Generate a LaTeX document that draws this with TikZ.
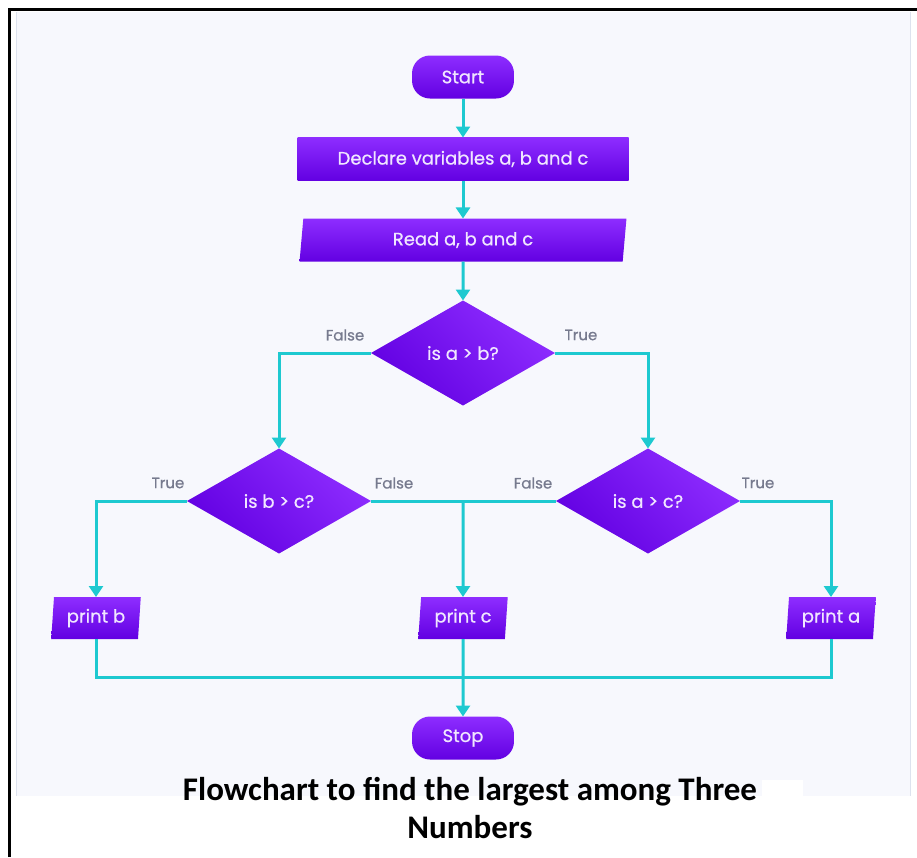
\documentclass[tikz,border=0pt]{standalone}
\usepackage{fontspec}
\setmainfont{Poppins}
\newfontfamily\nodefont{Poppins}[FakeBold=0.6]
\newfontfamily\capfont{Carlito}
\usetikzlibrary{shapes.geometric,arrows.meta}
\definecolor{bgc}{HTML}{F7F8FD}
\definecolor{pTop}{HTML}{8E2DFF}
\definecolor{pBot}{HTML}{6200E2}
\definecolor{linec}{HTML}{1EC9D0}
\definecolor{lblc}{HTML}{767A8E}
\definecolor{ntxt}{HTML}{F0E6FF}
\definecolor{edgec}{HTML}{DDE2EE}
\tikzset{
  base/.style={top color=pTop, bottom color=pBot, text=ntxt, font=\nodefont\fontsize{18}{20}\selectfont, inner sep=0pt, outer sep=0pt},
  term/.style={base, rounded corners=18pt, minimum width=102pt, minimum height=43pt},
  procbox/.style={base, rectangle, minimum width=331pt, minimum height=43pt},
  iobox/.style={base, trapezium, trapezium left angle=84, trapezium right angle=96, trapezium stretches=true},
  decision/.style={base, diamond, shading angle=-45, minimum width=184pt, minimum height=105pt},
  conn/.style={draw=linec, line width=3pt, -{Triangle[width=14pt,length=11pt]}},
  wire/.style={draw=linec, line width=3pt},
  lbl/.style={text=lblc, font=\nodefont\fontsize{15}{17}\selectfont}
}
\begin{document}
\begin{tikzpicture}[x=1pt,y=-1pt]
\useasboundingbox (0,0) rectangle (917,857);
\fill[white] (0,0) rectangle (917,857);
\fill[bgc] (16,12) rectangle (910,796);
\draw[edgec, line width=1pt] (16,12) -- (16,796) (910,12) -- (910,796);
\draw[black, line width=3pt] (9.5,857) -- (9.5,9.5) -- (917,9.5);

\node[term] (start) at (463,77) {Start};
\node[procbox] (decl) at (463,159) {Declare variables a, b and c};
\node[iobox, minimum width=327pt, minimum height=43pt] (read) at (463,240) {Read a, b and c};
\node[decision] (d1) at (463,353) {is a > b?};
\node[decision] (d2) at (279,501) {is b > c?};
\node[decision] (d3) at (648,501) {is a > c?};
\node[iobox, minimum width=90pt, minimum height=42pt] (pb) at (96,618) {print b};
\node[iobox, minimum width=90pt, minimum height=42pt] (pc) at (463,618) {print c};
\node[iobox, minimum width=90pt, minimum height=42pt] (pa) at (831,618) {print a};
\node[term] (stop) at (463,738) {Stop};

\node[lbl] (l1) at (345,335) {False};
\node[lbl] (l2) at (581,335) {True};
\node[lbl] (l3) at (168,483) {True};
\node[lbl] (l4) at (394,483) {False};
\node[lbl] (l5) at (533,483) {False};
\node[lbl] (l6) at (758,483) {True};

\coordinate (j1) at (463,501);
\coordinate (j2) at (463,677);

\draw[conn] (start) -- (decl);
\draw[conn] (decl) -- (read);
\draw[conn] (read) -- (d1);
\draw[conn] (d1.west) -| (d2.north);
\draw[conn] (d1.east) -| (d3.north);
\draw[conn] (d2.west) -| (pb.north);
\draw[conn] (d3.east) -| (pa.north);
\draw[wire] (d2.east) -- (d3.west);
\draw[conn] (j1) -- (pc.north);
\draw[wire] (pb.south) |- (j2) -| (pa.south);
\draw[conn] (pc.south) -- (stop.north);

\fill[white] (762,780) rectangle (803,797);
\node[font=\capfont\bfseries\fontsize{33}{38}\selectfont, align=center] (cap) at (470,808) {Flowchart to find the largest among Three\\Numbers};
\end{tikzpicture}
\end{document}
